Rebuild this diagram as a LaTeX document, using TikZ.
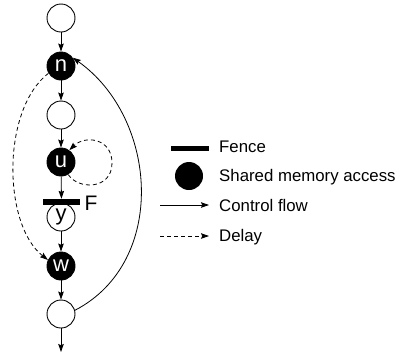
\documentclass[tikz,border=0pt]{standalone}
\usepackage{fontspec}
\setmainfont{Liberation Sans}
\usetikzlibrary{arrows.meta}
\begin{document}
\begin{tikzpicture}[x=1pt,y=-1pt,
  tip/.style={-{Stealth[length=8pt,width=5.5pt,inset=1.2pt]}},
  flow/.style={tip,line width=0.8pt},
  delay/.style={tip,line width=0.8pt,dash pattern=on 4pt off 3pt},
  wnode/.style={circle,draw,line width=0.9pt,fill=white,minimum size=28pt,inner sep=0pt,font=\fontsize{22}{22}\selectfont},
  bnode/.style={circle,draw,line width=0.9pt,fill=black,text=white,minimum size=28pt,inner sep=0pt,font=\fontsize{22}{22}\selectfont},
  fencebar/.style={rectangle,fill=black,inner sep=0pt},
  legtext/.style={anchor=base west,inner sep=0pt,font=\fontsize{16.8}{17}\selectfont}]
\useasboundingbox (0,0) rectangle (403,354);
% main column
\node[wnode] (a) at (61,18) {};
\node[bnode] (n) at (61,66) {n};
\node[wnode] (b) at (61,115) {};
\node[bnode] (u) at (61,162) {u};
\node[wnode] (y) at (61,217) {y};
\node[fencebar,minimum width=37pt,minimum height=6pt] (fence) at (61.5,202) {};
\node[anchor=west,inner sep=0pt,font=\fontsize{21}{21}\selectfont] (F) at (84.5,203) {F};
\node[bnode] (w) at (61,266) {w};
\node[wnode] (c) at (61,314) {};
\coordinate (out) at (61,352);
% control flow
\draw[flow] (a) -- (n);
\draw[flow] (n) -- (b);
\draw[flow] (b) -- (u);
\draw[flow] (u) -- (fence);
\draw[flow] (y) -- (w);
\draw[flow] (w) -- (c);
\draw[flow] (c) -- (out);
\draw[flow] (c.15) .. controls (168,262) and (158,118) .. (n.35);
% delays
\draw[delay] (n.210) .. controls (1,110) and (3,225) .. (w.155);
\draw[delay] (u.-60) .. controls (78,190) and (112,190) .. (112,163) .. controls (112,138) and (85,135) .. (u.55);
% legend
\node[fencebar,minimum width=38pt,minimum height=5pt] (lfence) at (190,148) {};
\node[circle,fill=black,minimum size=28pt,inner sep=0pt] (lcirc) at (189,176) {};
\coordinate (lc1) at (160,205);
\coordinate (lc2) at (209,205);
\coordinate (ld1) at (160,236);
\coordinate (ld2) at (209,236);
\draw[flow] (lc1) -- (lc2);
\draw[delay] (ld1) -- (ld2);
\node[legtext] (t1) at (219,152.7) {Fence};
\node[legtext] (t2) at (219,181) {Shared memory access};
\node[legtext] (t3) at (219,211.7) {Control flow};
\node[legtext] (t4) at (219,241) {Delay};
\end{tikzpicture}
\end{document}
